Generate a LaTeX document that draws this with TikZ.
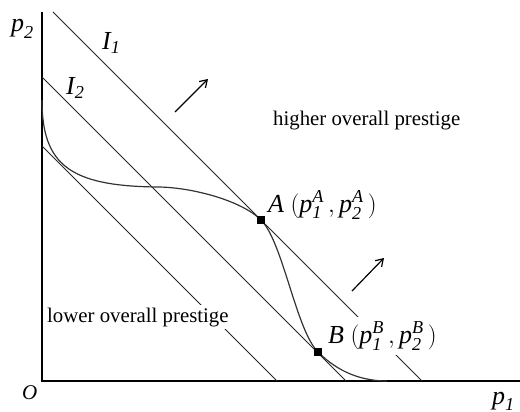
\documentclass[tikz,border=0pt]{standalone}
\usepackage{amsmath}
\usepackage{fontspec}
\setmainfont{Liberation Serif}
\usetikzlibrary{arrows.meta}
\newcommand{\mv}[1]{\textit{#1}}
\tikzset{
  axisline/.style={line width=1.3pt, black},
  isoline/.style={line width=0.8pt, black!85},
  curveline/.style={line width=1.2pt, black!80},
  pointmark/.style={rectangle, fill=black, minimum size=7.5pt, inner sep=0pt},
  mathlbl/.style={font=\fontsize{26}{30}\selectfont, inner sep=0pt},
  txtlbl/.style={font=\fontsize{20.8}{24}\selectfont, inner sep=0pt},
  dirarrow/.style={line width=1.2pt, -{Straight Barb[length=7pt,width=9pt,line width=1.2pt]}},
}
\begin{document}
\begin{tikzpicture}[x=1pt,y=-1pt]
\useasboundingbox (0,0) rectangle (520,412);
% axes
\coordinate (Otop) at (42,12);
\coordinate (O) at (42,381);
\coordinate (Xend) at (520,381);
\draw[axisline] (Otop) -- (O) -- (Xend);
% iso lines
\coordinate (I1a) at (53,12);
\coordinate (I1b) at (422,381);
\coordinate (I2a) at (42,77);
\coordinate (I2b) at (346,381);
\coordinate (I3a) at (42,146);
\coordinate (I3b) at (277,381);
\draw[isoline] (I1a) -- (I1b);
\draw[isoline] (I2a) -- (I2b);
\draw[isoline] (I3a) -- (I3b);
% curve
\coordinate (C0) at (42,100);
\coordinate (C1) at (157,187);
\coordinate (A) at (261,220);
\coordinate (B) at (318,352);
\coordinate (C4) at (387,381);
\draw[curveline] (C0) .. controls (42,165) and (70,186) .. (C1)
  .. controls (190,187) and (241,200) .. (A)
  .. controls (283,242) and (296,330) .. (B)
  .. controls (333,367) and (355,381) .. (C4);
% labels with white background
\node[txtlbl, anchor=base west, fill=white, inner sep=3pt] (lower) at (44,322) {lower overall prestige};
\node[mathlbl, anchor=base west, fill=white, inner sep=5pt] (Blbl) at (323,343) {$\mv{B}\ (\mv{p}_{\mv{1}}^{\mv{B}}\,,\mv{p}_{\mv{2}}^{\mv{B}}\,)$};
\node[mathlbl, anchor=base west] (Albl) at (268,212) {$\mv{A}\ (\mv{p}_{\mv{1}}^{\mv{A}}\,,\mv{p}_{\mv{2}}^{\mv{A}}\,)$};
\node[txtlbl, anchor=base west] (higher) at (273,125) {higher overall prestige};
\node[pointmark] (Apt) at (A) {};
\node[pointmark] (Bpt) at (B) {};
% axis labels
\node[mathlbl, anchor=base west] (p2) at (11,32) {$\mv{p}_{\mv{2}}$};
\node[mathlbl, anchor=base west] (p1) at (492,404) {$\mv{p}_{\mv{1}}$};
\node[font=\fontsize{21}{24}\selectfont, anchor=base west, inner sep=0pt] (Olbl) at (22,399) {\mv{O}};
\node[mathlbl, anchor=base west] (I1lbl) at (102,50) {$\mv{I}_{\mv{1}}$};
\node[mathlbl, anchor=base west] (I2lbl) at (66,95) {$\mv{I}_{\mv{2}}$};
% direction arrows
\coordinate (a1s) at (175,112);
\coordinate (a1e) at (208,79);
\coordinate (a2s) at (352,291);
\coordinate (a2e) at (384,258);
\draw[dirarrow] (a1s) -- (a1e);
\draw[dirarrow] (a2s) -- (a2e);
\end{tikzpicture}
\end{document}
